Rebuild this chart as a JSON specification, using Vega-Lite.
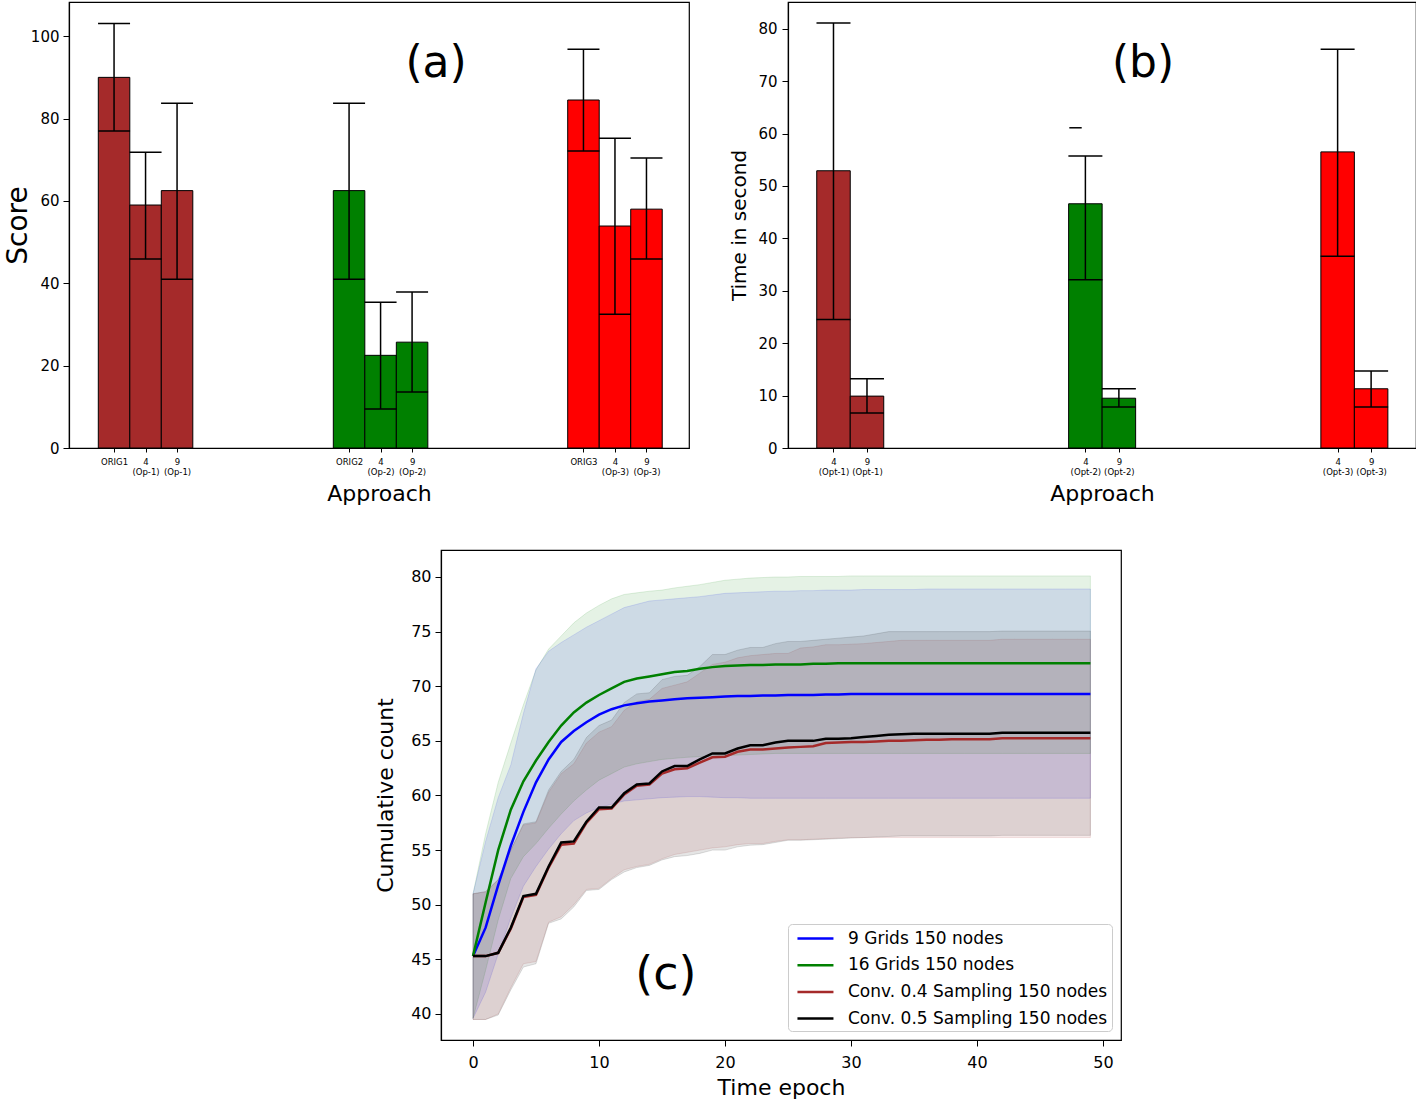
{
"$schema": "https://vega.github.io/schema/vega-lite/v6.json",
"padding": {"left": 3, "top": 1, "right": 0, "bottom": 0},
"config": {
 "font": "DejaVu Sans",
 "view": {"stroke": "black", "strokeWidth": 1.2},
 "axis": {"grid": false, "domainColor": "black", "domainWidth": 1.2, "tickColor": "black", "tickWidth": 1, "labelColor": "black", "titleColor": "black", "titleFontWeight": "normal", "labelFont": "DejaVu Sans", "titleFont": "DejaVu Sans"},
 "text": {"font": "DejaVu Sans"}
},
"resolve": {"scale": {"color": "independent", "fill": "independent", "stroke": "independent"}, "legend": {"color": "independent"}},
"spacing": 43,
"vconcat": [
 {"hconcat": [
  {"width": 620, "height": 446,
   "data": {"values": [
    {"label": "ORIG1", "pos": 0, "grp": "1", "score": 90.0, "lo": 77.0, "hi": 103.1},
    {"label": "4 (Op-1)", "pos": 1, "grp": "1", "score": 59.0, "lo": 45.9, "hi": 71.8},
    {"label": "9 (Op-1)", "pos": 2, "grp": "1", "score": 62.5, "lo": 41.0, "hi": 83.7},
    {"label": "ORIG2", "pos": 7.46, "grp": "2", "score": 62.5, "lo": 41.0, "hi": 83.7},
    {"label": "4 (Op-2)", "pos": 8.46, "grp": "2", "score": 22.5, "lo": 9.5, "hi": 35.4},
    {"label": "9 (Op-2)", "pos": 9.46, "grp": "2", "score": 25.7, "lo": 13.6, "hi": 37.9},
    {"label": "ORIG3", "pos": 14.9, "grp": "3", "score": 84.5, "lo": 72.1, "hi": 96.8},
    {"label": "4 (Op-3)", "pos": 15.9, "grp": "3", "score": 53.9, "lo": 32.5, "hi": 75.2},
    {"label": "9 (Op-3)", "pos": 16.9, "grp": "3", "score": 58.0, "lo": 45.9, "hi": 70.4}
   ]},
   "layer": [
    {"mark": {"type": "bar", "width": 31.5, "stroke": "black", "strokeWidth": 1},
     "encoding": {
      "x": {"field": "pos", "type": "quantitative", "scale": {"domain": [-1.43, 18.25], "nice": false, "zero": false, "padding": 0},
            "axis": {"values": [0, 1, 2, 7.46, 8.46, 9.46, 14.9, 15.9, 16.9],
                     "labelExpr": "split(['ORIG1','4|(Op-1)','9|(Op-1)','ORIG2','4|(Op-2)','9|(Op-2)','ORIG3','4|(Op-3)','9|(Op-3)'][indexof([0,1,2,7.46,8.46,9.46,14.9,15.9,16.9], datum.value)], '|')",
                     "labelFontSize": 8.5, "labelLineHeight": 10, "labelOverlap": false, "labelFlush": false, "tickSize": 4, "labelPadding": 5,
                     "title": "Approach", "titleFontSize": 22, "titlePadding": 8}},
      "y": {"field": "score", "type": "quantitative", "scale": {"domain": [0, 108.3], "nice": false, "padding": 0},
            "axis": {"values": [0, 20, 40, 60, 80, 100], "labelFontSize": 15, "tickSize": 6, "labelPadding": 4, "title": "Score", "titleFontSize": 28, "titlePadding": -2}},
      "color": {"field": "grp", "type": "nominal", "scale": {"domain": ["1", "2", "3"], "range": ["#a52a2a", "#008000", "#ff0000"]}, "legend": null}
     }},
    {"mark": {"type": "rule", "color": "black", "strokeWidth": 1.5},
     "encoding": {"x": {"field": "pos", "type": "quantitative"}, "y": {"field": "lo", "type": "quantitative"}, "y2": {"field": "hi"}}},
    {"mark": {"type": "tick", "orient": "horizontal", "size": 32, "thickness": 1.5, "color": "black", "opacity": 1},
     "encoding": {"x": {"field": "pos", "type": "quantitative"}, "y": {"field": "hi", "type": "quantitative"}}},
    {"mark": {"type": "tick", "orient": "horizontal", "size": 32, "thickness": 1.5, "color": "black", "opacity": 1},
     "encoding": {"x": {"field": "pos", "type": "quantitative"}, "y": {"field": "lo", "type": "quantitative"}}},
    {"data": {"values": [{"tag": "(a)"}]},
     "mark": {"type": "text", "fontSize": 44, "baseline": "middle", "align": "center", "color": "black"},
     "encoding": {"text": {"field": "tag"}, "x": {"datum": 10.22}, "y": {"datum": 93.2}}}
   ]},
  {"width": 628, "height": 446,
   "data": {"values": [
    {"label": "4 (Opt-1)", "pos": 0, "grp": "1", "time": 52.9, "lo": 24.5, "hi": 81.1},
    {"label": "9 (Opt-1)", "pos": 1, "grp": "1", "time": 9.9, "lo": 6.7, "hi": 13.2},
    {"label": "4 (Opt-2)", "pos": 7.52, "grp": "2", "time": 46.6, "lo": 32.1, "hi": 55.7},
    {"label": "9 (Opt-2)", "pos": 8.52, "grp": "2", "time": 9.5, "lo": 7.8, "hi": 11.3},
    {"label": "4 (Opt-3)", "pos": 15.05, "grp": "3", "time": 56.5, "lo": 36.6, "hi": 76.1},
    {"label": "9 (Opt-3)", "pos": 16.05, "grp": "3", "time": 11.3, "lo": 7.8, "hi": 14.7}
   ]},
   "layer": [
    {"mark": {"type": "bar", "width": 33.5, "stroke": "black", "strokeWidth": 1},
     "encoding": {
      "x": {"field": "pos", "type": "quantitative", "scale": {"domain": [-1.358, 17.39], "nice": false, "zero": false, "padding": 0},
            "axis": {"values": [0, 1, 7.52, 8.52, 15.05, 16.05],
                     "labelExpr": "split(['4|(Opt-1)','9|(Opt-1)','4|(Opt-2)','9|(Opt-2)','4|(Opt-3)','9|(Opt-3)'][indexof([0,1,7.52,8.52,15.05,16.05], datum.value)], '|')",
                     "labelFontSize": 8.5, "labelLineHeight": 10, "labelOverlap": false, "labelFlush": false, "tickSize": 4, "labelPadding": 5,
                     "title": "Approach", "titleFontSize": 22, "titlePadding": 8}},
      "y": {"field": "time", "type": "quantitative", "scale": {"domain": [0, 85.1], "nice": false, "padding": 0},
            "axis": {"values": [0, 10, 20, 30, 40, 50, 60, 70, 80], "labelFontSize": 15, "tickSize": 6, "labelPadding": 5, "title": "Time in second", "titleFontSize": 20, "titlePadding": 8}},
      "color": {"field": "grp", "type": "nominal", "scale": {"domain": ["1", "2", "3"], "range": ["#a52a2a", "#008000", "#ff0000"]}, "legend": null}
     }},
    {"mark": {"type": "rule", "color": "black", "strokeWidth": 1.5},
     "encoding": {"x": {"field": "pos", "type": "quantitative"}, "y": {"field": "lo", "type": "quantitative"}, "y2": {"field": "hi"}}},
    {"mark": {"type": "tick", "orient": "horizontal", "size": 34, "thickness": 1.5, "color": "black", "opacity": 1},
     "encoding": {"x": {"field": "pos", "type": "quantitative"}, "y": {"field": "hi", "type": "quantitative"}}},
    {"mark": {"type": "tick", "orient": "horizontal", "size": 34, "thickness": 1.5, "color": "black", "opacity": 1},
     "encoding": {"x": {"field": "pos", "type": "quantitative"}, "y": {"field": "lo", "type": "quantitative"}}},
    {"data": {"values": [{"v": 61.1}]},
     "mark": {"type": "rule", "color": "black", "strokeWidth": 1.5},
     "encoding": {"x": {"datum": 7.04}, "x2": {"datum": 7.41}, "y": {"field": "v", "type": "quantitative"}}},
    {"data": {"values": [{"tag": "(b)"}]},
     "mark": {"type": "text", "fontSize": 44, "baseline": "middle", "align": "center", "color": "black"},
     "encoding": {"text": {"field": "tag"}, "x": {"datum": 9.24}, "y": {"datum": 73.3}}}
   ]}
 ], "spacing": 99, "bounds": "flush"},
 {"hconcat": [
  {"width": 352, "height": 490, "view": {"stroke": null}, "data": {"values": []}, "mark": "point", "encoding": {}},
  {"width": 680, "height": 490,
   "data": {"values": [
{"t":0,"s":"b","m":45.3,"lo":39.6,"hi":51.0},{"t":1,"s":"b","m":47.9,"lo":42.0,"hi":55.8},{"t":2,"s":"b","m":51.8,"lo":45.5,"hi":59.8},{"t":3,"s":"b","m":55.4,"lo":48.8,"hi":62.8},{"t":4,"s":"b","m":58.5,"lo":51.7,"hi":67.5},{"t":5,"s":"b","m":61.2,"lo":53.5,"hi":71.6},{"t":6,"s":"b","m":63.3,"lo":55.1,"hi":73.2},{"t":7,"s":"b","m":64.9,"lo":56.5,"hi":74.0},{"t":8,"s":"b","m":65.9,"lo":57.7,"hi":74.7},{"t":9,"s":"b","m":66.7,"lo":58.4,"hi":75.4},
{"t":10,"s":"b","m":67.4,"lo":58.9,"hi":76.0},{"t":11,"s":"b","m":67.9,"lo":59.2,"hi":76.6},{"t":12,"s":"b","m":68.25,"lo":59.5,"hi":77.2},{"t":13,"s":"b","m":68.45,"lo":59.6,"hi":77.5},{"t":14,"s":"b","m":68.6,"lo":59.7,"hi":77.8},{"t":15,"s":"b","m":68.7,"lo":59.8,"hi":77.9},{"t":16,"s":"b","m":68.8,"lo":59.85,"hi":78.0},{"t":17,"s":"b","m":68.9,"lo":59.9,"hi":78.1},{"t":18,"s":"b","m":68.95,"lo":59.9,"hi":78.2},{"t":19,"s":"b","m":69.0,"lo":59.85,"hi":78.35},
{"t":20,"s":"b","m":69.05,"lo":59.8,"hi":78.5},{"t":21,"s":"b","m":69.1,"lo":59.8,"hi":78.55},{"t":22,"s":"b","m":69.1,"lo":59.75,"hi":78.6},{"t":23,"s":"b","m":69.15,"lo":59.75,"hi":78.65},{"t":24,"s":"b","m":69.15,"lo":59.75,"hi":78.7},{"t":25,"s":"b","m":69.2,"lo":59.75,"hi":78.7},{"t":26,"s":"b","m":69.2,"lo":59.75,"hi":78.75},{"t":27,"s":"b","m":69.2,"lo":59.75,"hi":78.75},{"t":28,"s":"b","m":69.25,"lo":59.75,"hi":78.8},{"t":29,"s":"b","m":69.25,"lo":59.75,"hi":78.8},
{"t":30,"s":"b","m":69.3,"lo":59.75,"hi":78.8},{"t":31,"s":"b","m":69.3,"lo":59.75,"hi":78.85},{"t":32,"s":"b","m":69.3,"lo":59.75,"hi":78.85},{"t":33,"s":"b","m":69.3,"lo":59.75,"hi":78.85},{"t":34,"s":"b","m":69.3,"lo":59.75,"hi":78.85},{"t":35,"s":"b","m":69.3,"lo":59.75,"hi":78.85},{"t":36,"s":"b","m":69.3,"lo":59.75,"hi":78.9},{"t":37,"s":"b","m":69.3,"lo":59.75,"hi":78.9},{"t":38,"s":"b","m":69.3,"lo":59.75,"hi":78.9},{"t":39,"s":"b","m":69.3,"lo":59.75,"hi":78.9},
{"t":40,"s":"b","m":69.3,"lo":59.75,"hi":78.9},{"t":41,"s":"b","m":69.3,"lo":59.75,"hi":78.9},{"t":42,"s":"b","m":69.3,"lo":59.75,"hi":78.9},{"t":43,"s":"b","m":69.3,"lo":59.75,"hi":78.9},{"t":44,"s":"b","m":69.3,"lo":59.75,"hi":78.9},{"t":45,"s":"b","m":69.3,"lo":59.75,"hi":78.9},{"t":46,"s":"b","m":69.3,"lo":59.75,"hi":78.9},{"t":47,"s":"b","m":69.3,"lo":59.75,"hi":78.9},{"t":48,"s":"b","m":69.3,"lo":59.75,"hi":78.9},{"t":49,"s":"b","m":69.3,"lo":59.75,"hi":78.9},
{"t":0,"s":"g","m":45.3,"lo":39.6,"hi":51.0},{"t":1,"s":"g","m":50.2,"lo":44.0,"hi":56.5},{"t":2,"s":"g","m":55.0,"lo":48.6,"hi":61.2},{"t":3,"s":"g","m":58.7,"lo":52.4,"hi":64.8},{"t":4,"s":"g","m":61.3,"lo":54.4,"hi":68.3},{"t":5,"s":"g","m":63.2,"lo":55.6,"hi":71.5},{"t":6,"s":"g","m":64.9,"lo":57.0,"hi":73.4},{"t":7,"s":"g","m":66.4,"lo":58.3,"hi":74.6},{"t":8,"s":"g","m":67.6,"lo":59.5,"hi":75.8},{"t":9,"s":"g","m":68.5,"lo":60.5,"hi":76.7},
{"t":10,"s":"g","m":69.2,"lo":61.4,"hi":77.4},{"t":11,"s":"g","m":69.8,"lo":62.0,"hi":78.0},{"t":12,"s":"g","m":70.4,"lo":62.6,"hi":78.4},{"t":13,"s":"g","m":70.7,"lo":62.9,"hi":78.55},{"t":14,"s":"g","m":70.9,"lo":63.1,"hi":78.7},{"t":15,"s":"g","m":71.1,"lo":63.3,"hi":78.8},{"t":16,"s":"g","m":71.3,"lo":63.4,"hi":79.0},{"t":17,"s":"g","m":71.4,"lo":63.5,"hi":79.15},{"t":18,"s":"g","m":71.6,"lo":63.55,"hi":79.3},{"t":19,"s":"g","m":71.75,"lo":63.6,"hi":79.5},
{"t":20,"s":"g","m":71.85,"lo":63.65,"hi":79.7},{"t":21,"s":"g","m":71.9,"lo":63.7,"hi":79.8},{"t":22,"s":"g","m":71.95,"lo":63.75,"hi":79.9},{"t":23,"s":"g","m":71.95,"lo":63.8,"hi":79.95},{"t":24,"s":"g","m":72.0,"lo":63.85,"hi":80.0},{"t":25,"s":"g","m":72.0,"lo":63.85,"hi":80.0},{"t":26,"s":"g","m":72.0,"lo":63.85,"hi":80.05},{"t":27,"s":"g","m":72.05,"lo":63.85,"hi":80.05},{"t":28,"s":"g","m":72.05,"lo":63.85,"hi":80.05},{"t":29,"s":"g","m":72.1,"lo":63.85,"hi":80.05},
{"t":30,"s":"g","m":72.1,"lo":63.85,"hi":80.1},{"t":31,"s":"g","m":72.1,"lo":63.85,"hi":80.1},{"t":32,"s":"g","m":72.1,"lo":63.85,"hi":80.1},{"t":33,"s":"g","m":72.1,"lo":63.85,"hi":80.1},{"t":34,"s":"g","m":72.1,"lo":63.85,"hi":80.1},{"t":35,"s":"g","m":72.1,"lo":63.85,"hi":80.1},{"t":36,"s":"g","m":72.1,"lo":63.85,"hi":80.1},{"t":37,"s":"g","m":72.1,"lo":63.85,"hi":80.1},{"t":38,"s":"g","m":72.1,"lo":63.85,"hi":80.1},{"t":39,"s":"g","m":72.1,"lo":63.85,"hi":80.1},
{"t":40,"s":"g","m":72.1,"lo":63.85,"hi":80.1},{"t":41,"s":"g","m":72.1,"lo":63.85,"hi":80.1},{"t":42,"s":"g","m":72.1,"lo":63.85,"hi":80.1},{"t":43,"s":"g","m":72.1,"lo":63.85,"hi":80.1},{"t":44,"s":"g","m":72.1,"lo":63.85,"hi":80.1},{"t":45,"s":"g","m":72.1,"lo":63.85,"hi":80.1},{"t":46,"s":"g","m":72.1,"lo":63.85,"hi":80.1},{"t":47,"s":"g","m":72.1,"lo":63.85,"hi":80.1},{"t":48,"s":"g","m":72.1,"lo":63.85,"hi":80.1},{"t":49,"s":"g","m":72.1,"lo":63.85,"hi":80.1},
{"t":0,"s":"r","m":45.3,"lo":39.5,"hi":51.0},{"t":1,"s":"r","m":45.3,"lo":39.5,"hi":51.2},{"t":2,"s":"r","m":45.6,"lo":40.0,"hi":52.3},{"t":3,"s":"r","m":47.8,"lo":42.4,"hi":55.0},{"t":4,"s":"r","m":50.7,"lo":44.6,"hi":57.3},{"t":5,"s":"r","m":50.9,"lo":44.8,"hi":57.5},{"t":6,"s":"r","m":53.4,"lo":48.4,"hi":60.3},{"t":7,"s":"r","m":55.5,"lo":48.9,"hi":62.0},{"t":8,"s":"r","m":55.6,"lo":50.0,"hi":62.9},{"t":9,"s":"r","m":57.5,"lo":51.4,"hi":64.8},
{"t":10,"s":"r","m":58.75,"lo":51.5,"hi":65.8},{"t":11,"s":"r","m":58.8,"lo":52.4,"hi":66.3},{"t":12,"s":"r","m":60.1,"lo":53.2,"hi":67.8},{"t":13,"s":"r","m":60.9,"lo":53.5,"hi":68.6},{"t":14,"s":"r","m":61.0,"lo":53.7,"hi":68.8},{"t":15,"s":"r","m":62.0,"lo":54.2,"hi":69.8},{"t":16,"s":"r","m":62.4,"lo":54.6,"hi":70.1},{"t":17,"s":"r","m":62.5,"lo":54.8,"hi":70.4},{"t":18,"s":"r","m":63.0,"lo":55.0,"hi":71.2},{"t":19,"s":"r","m":63.5,"lo":55.2,"hi":72.0},
{"t":20,"s":"r","m":63.55,"lo":55.3,"hi":72.2},{"t":21,"s":"r","m":64.0,"lo":55.5,"hi":72.6},{"t":22,"s":"r","m":64.2,"lo":55.6,"hi":72.8},{"t":23,"s":"r","m":64.2,"lo":55.6,"hi":72.9},{"t":24,"s":"r","m":64.3,"lo":55.8,"hi":73.0},{"t":25,"s":"r","m":64.4,"lo":55.95,"hi":73.0},{"t":26,"s":"r","m":64.45,"lo":55.95,"hi":73.5},{"t":27,"s":"r","m":64.5,"lo":56.0,"hi":73.6},{"t":28,"s":"r","m":64.8,"lo":56.05,"hi":73.8},{"t":29,"s":"r","m":64.85,"lo":56.1,"hi":73.8},
{"t":30,"s":"r","m":64.9,"lo":56.15,"hi":73.85},{"t":31,"s":"r","m":64.9,"lo":56.15,"hi":73.9},{"t":32,"s":"r","m":64.95,"lo":56.15,"hi":74.0},{"t":33,"s":"r","m":65.0,"lo":56.15,"hi":74.1},{"t":34,"s":"r","m":65.0,"lo":56.15,"hi":74.2},{"t":35,"s":"r","m":65.05,"lo":56.15,"hi":74.2},{"t":36,"s":"r","m":65.1,"lo":56.15,"hi":74.2},{"t":37,"s":"r","m":65.1,"lo":56.15,"hi":74.2},{"t":38,"s":"r","m":65.15,"lo":56.15,"hi":74.2},{"t":39,"s":"r","m":65.15,"lo":56.15,"hi":74.2},
{"t":40,"s":"r","m":65.15,"lo":56.15,"hi":74.2},{"t":41,"s":"r","m":65.15,"lo":56.15,"hi":74.2},{"t":42,"s":"r","m":65.25,"lo":56.15,"hi":74.3},{"t":43,"s":"r","m":65.25,"lo":56.15,"hi":74.3},{"t":44,"s":"r","m":65.25,"lo":56.15,"hi":74.3},{"t":45,"s":"r","m":65.25,"lo":56.15,"hi":74.3},{"t":46,"s":"r","m":65.25,"lo":56.15,"hi":74.3},{"t":47,"s":"r","m":65.25,"lo":56.15,"hi":74.3},{"t":48,"s":"r","m":65.25,"lo":56.15,"hi":74.3},{"t":49,"s":"r","m":65.25,"lo":56.15,"hi":74.3},
{"t":0,"s":"k","m":45.3,"lo":39.5,"hi":51.0},{"t":1,"s":"k","m":45.3,"lo":39.5,"hi":51.2},{"t":2,"s":"k","m":45.6,"lo":39.9,"hi":52.3},{"t":3,"s":"k","m":47.9,"lo":42.2,"hi":55.0},{"t":4,"s":"k","m":50.8,"lo":44.3,"hi":57.4},{"t":5,"s":"k","m":51.0,"lo":44.6,"hi":57.6},{"t":6,"s":"k","m":53.5,"lo":48.3,"hi":60.5},{"t":7,"s":"k","m":55.7,"lo":48.7,"hi":62.2},{"t":8,"s":"k","m":55.8,"lo":49.8,"hi":63.3},{"t":9,"s":"k","m":57.6,"lo":51.3,"hi":65.3},
{"t":10,"s":"k","m":58.9,"lo":51.4,"hi":66.4},{"t":11,"s":"k","m":58.9,"lo":52.3,"hi":66.9},{"t":12,"s":"k","m":60.2,"lo":53.0,"hi":68.5},{"t":13,"s":"k","m":61.0,"lo":53.4,"hi":69.3},{"t":14,"s":"k","m":61.1,"lo":53.6,"hi":69.4},{"t":15,"s":"k","m":62.2,"lo":54.1,"hi":70.6},{"t":16,"s":"k","m":62.7,"lo":54.4,"hi":70.9},{"t":17,"s":"k","m":62.7,"lo":54.5,"hi":71.0},{"t":18,"s":"k","m":63.3,"lo":54.7,"hi":71.8},{"t":19,"s":"k","m":63.85,"lo":55.0,"hi":72.9},
{"t":20,"s":"k","m":63.85,"lo":55.0,"hi":72.9},{"t":21,"s":"k","m":64.3,"lo":55.3,"hi":73.3},{"t":22,"s":"k","m":64.6,"lo":55.45,"hi":73.55},{"t":23,"s":"k","m":64.6,"lo":55.5,"hi":73.55},{"t":24,"s":"k","m":64.85,"lo":55.7,"hi":73.9},{"t":25,"s":"k","m":65.0,"lo":55.9,"hi":74.1},{"t":26,"s":"k","m":65.0,"lo":55.9,"hi":74.1},{"t":27,"s":"k","m":65.0,"lo":55.95,"hi":74.2},{"t":28,"s":"k","m":65.2,"lo":56.0,"hi":74.3},{"t":29,"s":"k","m":65.2,"lo":56.05,"hi":74.4},
{"t":30,"s":"k","m":65.25,"lo":56.1,"hi":74.5},{"t":31,"s":"k","m":65.35,"lo":56.15,"hi":74.6},{"t":32,"s":"k","m":65.45,"lo":56.2,"hi":74.8},{"t":33,"s":"k","m":65.55,"lo":56.25,"hi":75.0},{"t":34,"s":"k","m":65.6,"lo":56.3,"hi":75.0},{"t":35,"s":"k","m":65.65,"lo":56.3,"hi":75.0},{"t":36,"s":"k","m":65.65,"lo":56.3,"hi":75.0},{"t":37,"s":"k","m":65.65,"lo":56.3,"hi":75.0},{"t":38,"s":"k","m":65.65,"lo":56.3,"hi":75.0},{"t":39,"s":"k","m":65.65,"lo":56.3,"hi":75.0},
{"t":40,"s":"k","m":65.65,"lo":56.3,"hi":75.0},{"t":41,"s":"k","m":65.65,"lo":56.3,"hi":75.0},{"t":42,"s":"k","m":65.75,"lo":56.35,"hi":75.05},{"t":43,"s":"k","m":65.75,"lo":56.35,"hi":75.05},{"t":44,"s":"k","m":65.75,"lo":56.35,"hi":75.05},{"t":45,"s":"k","m":65.75,"lo":56.35,"hi":75.05},{"t":46,"s":"k","m":65.75,"lo":56.35,"hi":75.05},{"t":47,"s":"k","m":65.75,"lo":56.35,"hi":75.05},{"t":48,"s":"k","m":65.75,"lo":56.35,"hi":75.05},{"t":49,"s":"k","m":65.75,"lo":56.35,"hi":75.05}
   ]},
   "transform": [
    {"lookup": "s", "from": {"data": {"values": [
      {"s": "b", "name": "9 Grids 150 nodes"},
      {"s": "g", "name": "16 Grids 150 nodes"},
      {"s": "r", "name": "Conv. 0.4 Sampling 150 nodes"},
      {"s": "k", "name": "Conv. 0.5 Sampling 150 nodes"}]}, "key": "s", "fields": ["name"]}}
   ],
   "layer": [
    {"mark": {"type": "area", "fillOpacity": 0.1, "strokeOpacity": 0.12, "strokeWidth": 1},
     "encoding": {
      "x": {"field": "t", "type": "quantitative", "scale": {"domain": [-2.54, 51.43], "nice": false, "zero": false},
            "axis": {"values": [0, 10, 20, 30, 40, 50], "labelFontSize": 16, "tickSize": 6, "labelPadding": 8, "title": "Time epoch", "titleFontSize": 22, "titlePadding": 7}},
      "y": {"field": "lo", "type": "quantitative", "scale": {"domain": [37.62, 82.47], "nice": false, "zero": false},
            "axis": {"values": [40, 45, 50, 55, 60, 65, 70, 75, 80], "labelFontSize": 16, "tickSize": 6, "labelPadding": 4, "title": "Cumulative count", "titleFontSize": 22, "titlePadding": 13}},
      "y2": {"field": "hi"},
      "fill": {"field": "s", "type": "nominal", "scale": {"domain": ["b", "g", "r", "k"], "range": ["#0000ff", "#008000", "#a52a2a", "#000000"]}, "legend": null},
      "stroke": {"field": "s", "type": "nominal", "scale": {"domain": ["b", "g", "r", "k"], "range": ["#0000ff", "#008000", "#a52a2a", "#000000"]}, "legend": null}
     }},
    {"mark": {"type": "line", "strokeWidth": 2.5},
     "encoding": {
      "x": {"field": "t", "type": "quantitative"},
      "y": {"field": "m", "type": "quantitative"},
      "color": {"field": "name", "type": "nominal",
                "scale": {"domain": ["9 Grids 150 nodes", "16 Grids 150 nodes", "Conv. 0.4 Sampling 150 nodes", "Conv. 0.5 Sampling 150 nodes"], "range": ["#0000ff", "#008000", "#a52a2a", "#000000"]},
                "legend": {"title": null, "orient": "bottom-right", "offset": 9, "fillColor": "white", "strokeColor": "#cccccc", "cornerRadius": 4, "padding": 4,
                           "labelFontSize": 17, "labelFont": "DejaVu Sans", "labelColor": "black", "labelLimit": 400, "labelOffset": 35,
                           "symbolType": "M-0.56,0H3.44", "symbolStrokeWidth": 2.5, "symbolSize": 324, "rowPadding": 7.7}}
     }},
    {"data": {"values": [{"tag": "(c)"}]},
     "mark": {"type": "text", "fontSize": 46, "baseline": "middle", "align": "center", "color": "black"},
     "encoding": {"text": {"field": "tag"}, "x": {"datum": 15.3}, "y": {"datum": 43.6}}}
   ]}
 ], "spacing": 20, "bounds": "flush",
 "resolve": {"scale": {"color": "independent", "fill": "independent", "stroke": "independent"}, "legend": {"color": "independent"}}}
]
}
